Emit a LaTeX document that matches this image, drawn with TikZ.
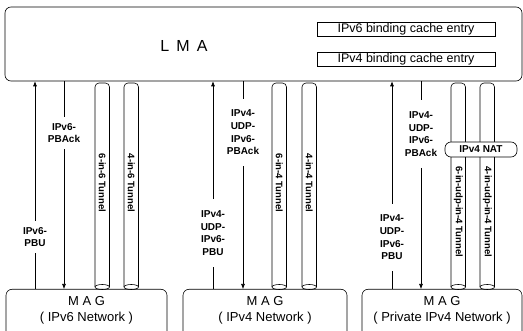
\documentclass[tikz,border=0pt]{standalone}
\usepackage{fontspec}
\setmainfont{Liberation Sans}
\usetikzlibrary{arrows.meta}

\begin{document}
\begin{tikzpicture}[x=1pt,y=-1pt,line width=0.6pt,
box/.style={draw,rounded corners=6pt,inner sep=0pt},
entry/.style={draw,minimum width=178pt,minimum height=14pt,inner sep=0pt,font=\fontsize{12.5}{14}\selectfont},
msg/.style={align=center,inner xsep=0pt,font=\fontsize{10}{12.7}\selectfont\bfseries},
arr/.style={-{Latex[length=5pt,width=4pt]}}]
\useasboundingbox (0,0) rectangle (523,331);
\node[box,minimum width=517pt,minimum height=74pt] (lma) at (263.5,44) {};
\node[font=\fontsize{16}{18}\selectfont] (lmatxt) at (184,46) {L\, M\, A};
\node[entry] (bc6) at (406,29) {IPv6 binding cache entry};
\node[entry] (bc4) at (406,59) {IPv4 binding cache entry};
\foreach \i/\x/\w/\nw in {1/86.5/161/IPv6 Network,2/265/164/IPv4 Network,3/442/160/Private IPv4 Network}{
\node[box,minimum width=\w pt,minimum height=60pt,anchor=north] (mag\i) at (\x,289) {};
\node[align=center,font=\fontsize{13}{16}\selectfont] (magtxt\i) at (\x,310) {M A G\\( \nw\ )};
}
\foreach \x/\y/\tn [count=\i] in {95/183/6-in-6 Tunnel,124/183/4-in-6 Tunnel,272/183/6-in-4 Tunnel,302/183/4-in-4 Tunnel,451/212/6-in-udp-in-4 Tunnel,480/212/4-in-udp-in-4 Tunnel}{
\draw[rounded corners=4pt] (\x,287) -- (\x,83) -- (\x+14.5,83) -- (\x+14.5,287);
\draw (\x+7.25,287) ellipse (7.25pt and 2.5pt);
\node[rotate=-90,font=\fontsize{9.5}{11}\selectfont\bfseries] (tun\i) at (\x+7.25,\y) {\tn};
}
\node[box,fill=white,minimum width=72pt,minimum height=15pt,font=\fontsize{10}{12}\selectfont\bfseries] (nat) at (481,149.5) {IPv4 NAT};
\node[msg,inner ysep=6pt] (pbu1) at (35,237) {IPv6-\\PBU};
\node[msg,inner ysep=6pt] (pback1) at (64,133) {IPv6-\\PBAck};
\node[msg,inner ysep=11pt] (pbu2) at (213,233) {IPv4-\\UDP-\\IPv6-\\PBU};
\node[msg,inner ysep=11pt] (pback2) at (243,132.5) {IPv4-\\UDP-\\IPv6-\\PBAck};
\node[msg,inner ysep=11pt] (pbu3) at (392,237.5) {IPv4-\\UDP-\\IPv6-\\PBU};
\node[msg,inner ysep=11pt] (pback3) at (421,134) {IPv4-\\UDP-\\IPv6-\\PBAck};
\foreach \i in {1,2,3}{
\draw (pbu\i.south |- mag\i.north) -- (pbu\i.south);
\draw[arr] (pbu\i.north) -- (pbu\i.north |- lma.south);
\draw (pback\i.north |- lma.south) -- (pback\i.north);
\draw[arr] (pback\i.south) -- (pback\i.south |- mag\i.north);
}
\end{tikzpicture}
\end{document}
